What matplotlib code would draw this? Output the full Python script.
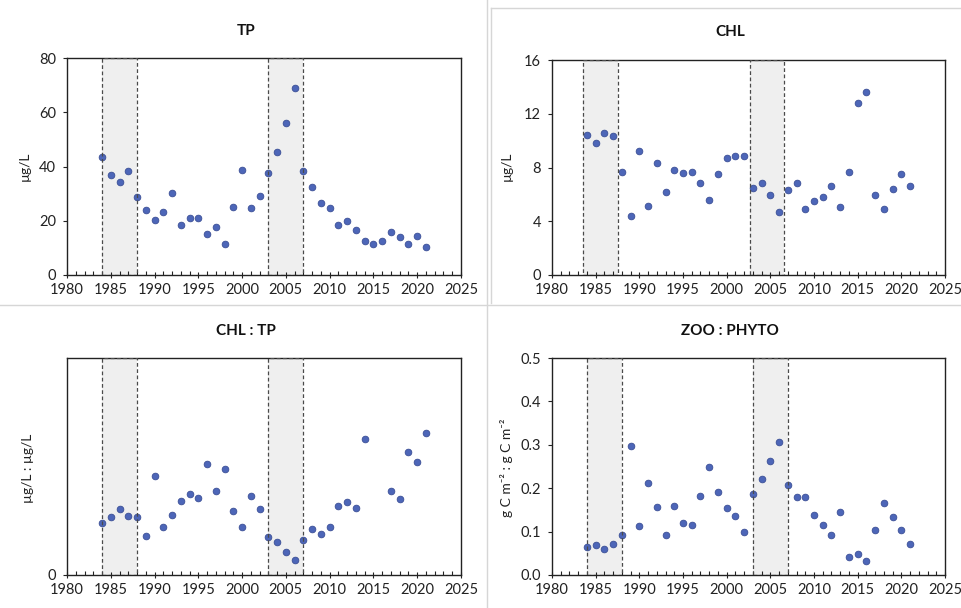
import numpy as np
import matplotlib
matplotlib.use("Agg")
import matplotlib.pyplot as plt
from matplotlib.lines import Line2D
from matplotlib.ticker import MultipleLocator

plt.rcParams['font.family'] = ['Lato', 'DejaVu Sans']

years = list(range(1984, 2022))

tp = [43.4, 37.0, 34.2, 38.2, 28.9, 24.1, 20.2, 23.1, 30.2, 18.6,
      20.9, 21.0, 15.1, 17.7, 11.6, 25.1, 38.7, 24.7, 29.1, 37.5,
      45.5, 56.0, 68.9, 38.5, 32.3, 26.4, 24.7, 18.3, 20.0, 16.6,
      12.5, 11.3, 12.4, 16.0, 14.1, 11.4, 14.3, 10.3]

chl = [10.45, 9.8, 10.58, 10.35, 7.63, 4.38, 9.24, 5.15, 8.37, 6.17,
       7.85, 7.58, 7.63, 6.81, 5.6, 7.53, 8.67, 8.89, 8.89, 6.51,
       6.81, 5.94, 4.71, 6.29, 6.81, 4.93, 5.52, 5.82, 6.64, 5.03,
       7.65, 12.83, 13.62, 5.99, 4.9, 6.41, 7.48, 6.61]

chl_tp = [0.238, 0.268, 0.305, 0.272, 0.268, 0.182, 0.457, 0.223, 0.275, 0.340,
          0.372, 0.357, 0.511, 0.386, 0.488, 0.297, 0.222, 0.365, 0.302, 0.174,
          0.151, 0.106, 0.069, 0.163, 0.211, 0.188, 0.223, 0.318, 0.335, 0.309,
          0.628, np.nan, np.nan, 0.388, 0.351, 0.569, 0.523, 0.654]

zoo_phyto = [0.065, 0.068, 0.061, 0.072, 0.092, 0.297, 0.113, 0.212, 0.156, 0.092,
             0.158, 0.120, 0.115, 0.183, 0.250, 0.192, 0.155, 0.136, 0.100, 0.187,
             0.221, 0.263, 0.307, 0.207, 0.180, 0.179, 0.138, 0.115, 0.093, 0.146,
             0.042, 0.048, 0.033, 0.104, 0.167, 0.134, 0.103, 0.072]

periods = [(1984, 1988), (2003, 2007)]
periods_chl = [(1983.6, 1987.6), (2002.65, 2006.6)]

W, H = 962, 608
fig = plt.figure(figsize=(W / 100, H / 100), dpi=100)
fig.patch.set_facecolor('white')


def px_rect(l, t, r, b):
    return [l / W, 1 - b / H, (r - l) / W, (b - t) / H]


# faint panel frames
border = '#d6d6d6'
fig.add_artist(Line2D([0, 1], [1 - 305 / H] * 2, color=border, lw=1.0, transform=fig.transFigure))
fig.add_artist(Line2D([487 / W] * 2, [0, 1], color=border, lw=1.0, transform=fig.transFigure))
fig.add_artist(Line2D([491 / W] * 2, [1 - 8 / H, 1 - 303 / H], color=border, lw=1.0, transform=fig.transFigure))
fig.add_artist(Line2D([491 / W, 1], [1 - 8 / H] * 2, color=border, lw=1.0, transform=fig.transFigure))

panels = [
    dict(rect=px_rect(67, 58, 461, 275), data=tp, title='TP', tx=246, ty=31,
         ylabel='µg/L', lx=25, ly=166, ylim=(0, 80), yticks=[0, 20, 40, 60, 80],
         fmt='{:.0f}', spans=periods),
    dict(rect=px_rect(552, 60, 945, 275), data=chl, title='CHL', tx=730, ty=32,
         ylabel='µg/L', lx=507, ly=166, ylim=(0, 16), yticks=[0, 4, 8, 12, 16],
         fmt='{:.0f}', spans=periods_chl),
    dict(rect=px_rect(67, 358, 461, 575), data=chl_tp, title='CHL : TP', tx=246, ty=331,
         ylabel='µg/L : µg/L', lx=28, ly=468, ylim=(0, 1), yticks=[0],
         fmt='{:.0f}', spans=periods),
    dict(rect=px_rect(552, 358, 945, 575), data=zoo_phyto, title='ZOO : PHYTO', tx=730, ty=331,
         ylabel='g C m⁻² : g C m⁻²', lx=507, ly=468, ylim=(0, 0.5),
         yticks=[0, 0.1, 0.2, 0.3, 0.4, 0.5], fmt='{:.1f}', spans=periods),
]

for p in panels:
    ax = fig.add_axes(p['rect'])
    ax.set_xlim(1980, 2025)
    ax.set_ylim(*p['ylim'])
    for x0, x1 in p['spans']:
        ax.axvspan(x0, x1, facecolor='#efefef', edgecolor='none', zorder=1)
    ax.plot(years, p['data'], linestyle='none', marker='o', markersize=4.8,
            markerfacecolor='#4d66b8', markeredgecolor='#3b4f96',
            markeredgewidth=0.6, zorder=3)
    for x0, x1 in p['spans']:
        ax.axvspan(x0, x1, facecolor='none', edgecolor='#4a4a4a',
                   linestyle=(0, (3, 2)), linewidth=0.9, zorder=5)
    ax.xaxis.set_major_locator(MultipleLocator(5))
    ax.xaxis.set_minor_locator(MultipleLocator(1))
    ax.set_yticks(p['yticks'])
    ax.set_yticklabels([p['fmt'].format(v) for v in p['yticks']])
    ax.tick_params(axis='x', which='major', direction='inout', length=5, width=0.8,
                   labelsize=10.5, pad=3, colors='#222222')
    ax.tick_params(axis='x', which='minor', direction='in', length=3, width=0.8,
                   colors='#222222')
    ax.tick_params(axis='y', which='major', direction='out', length=3, width=0.8,
                   labelsize=10.5, pad=5, colors='#222222')
    ax.tick_params(top=False, right=False)
    for s in ax.spines.values():
        s.set_color('#222222')
        s.set_linewidth(1.0)
    fig.text(p['tx'] / W, 1 - p['ty'] / H, p['title'], ha='center', va='center',
             fontsize=11, fontweight='bold', color='#111111')
    fig.text(p['lx'] / W, 1 - p['ly'] / H, p['ylabel'], ha='center', va='center',
             rotation=90, fontsize=10, color='#222222')

fig.savefig('out.png', dpi=100, facecolor='white')
